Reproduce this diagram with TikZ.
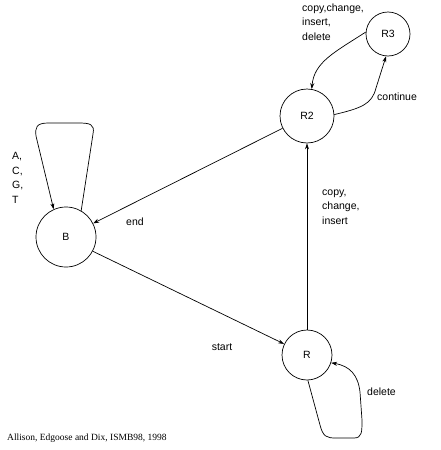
\documentclass[tikz,border=0pt]{standalone}
\usepackage{fontspec}
\setmainfont{Liberation Sans}
\newfontfamily\capfont{Liberation Serif}
\usetikzlibrary{arrows.meta}
\tikzset{
  state/.style={circle,draw,line width=0.7pt,inner sep=0pt,font=\fontsize{10.5}{12}\selectfont},
  arr/.style={line width=0.7pt,-{Stealth[length=6pt,width=4pt]}},
  lbl/.style={align=left,anchor=west,inner sep=0pt,font=\fontsize{10.5}{14.5}\selectfont}
}
\begin{document}
\begin{tikzpicture}[x=1pt,y=-1pt]
\useasboundingbox (0,0) rectangle (440,450);
\node[state,minimum size=60pt] (B) at (66,237) {B};
\node[state,minimum size=54pt] (R2) at (307,116) {R2};
\node[state,minimum size=44pt] (R3) at (388,34) {R3};
\node[state,minimum size=50pt] (R) at (307,355) {R};
% B self loop
\draw[arr] (B.60) -- (93,134) .. controls (95,124) and (90,123) .. (78,123) -- (48,123) .. controls (36,123) and (35,128) .. (36,136) -- (B.114);
\node[lbl] (acgt) at (12,178) {A,\\C,\\G,\\T};
% R2 -> B
\draw[arr] (R2) -- (B);
\node[lbl,anchor=center] (end) at (135,222) {end};
% B -> R
\draw[arr] (B.-28) -- (R);
\node[lbl,anchor=center] (start) at (222,347) {start};
% R -> R2
\draw[arr] (R) -- (R2);
\node[lbl] (cci) at (322,207) {copy,\\change,\\insert};
% R2 -> R3
\draw[arr] (R2.3) .. controls (362,108) and (372,104) .. (376,88) -- (R3.-95);
\node[lbl] (cont) at (377,97) {continue};
% R3 -> R2
\draw[arr] (R3.175) .. controls (335,52) and (314,62) .. (R2.80);
\node[lbl] (ccid) at (302,22) {copy,change,\\insert,\\delete};
% R self loop
\draw[arr] (R.-88) -- (320,425) .. controls (323,437) and (327,438) .. (336,438) -- (354,438) .. controls (362,438) and (362,432) .. (362,420) -- (360,392) .. controls (358,375) and (350,366) .. (R.-18);
\node[lbl] (del) at (367,392) {delete};
% caption
\node[lbl,font=\capfont\fontsize{9.5}{12}\selectfont] (cap) at (7,438) {Allison, Edgoose and Dix, ISMB98, 1998};
\end{tikzpicture}
\end{document}
